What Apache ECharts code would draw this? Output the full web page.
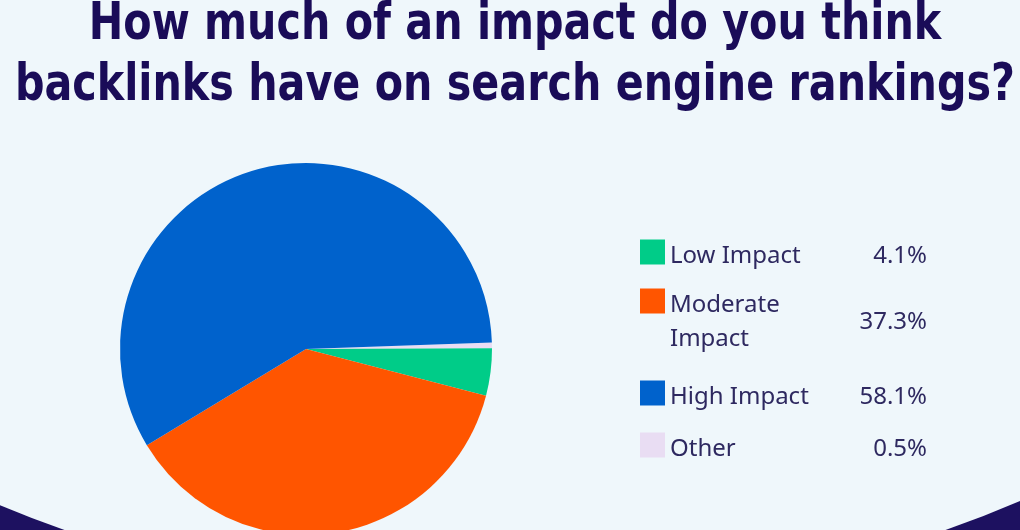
<!DOCTYPE html>
<html>
<head>
<meta charset="utf-8">
<script src="https://cdn.jsdelivr.net/npm/echarts@6/dist/echarts.min.js"></script>
<style>html,body{margin:0;padding:0;background:#1d1160;}#c{width:1020px;height:530px;}</style>
</head>
<body>
<div id="c"></div>
<script>
// Data
var titleLines = ['How much of an impact do you think', 'backlinks have on search engine rankings?'];
var categories = ['Other', 'Low Impact', 'Moderate Impact', 'High Impact'];
var values = [0.5, 4.1, 37.3, 58.1];
var colors = ['#e9ddf3', '#00cc88', '#ff5500', '#0062cc'];
var legendOrder = ['Low Impact', 'Moderate Impact', 'High Impact', 'Other'];
var legendLabels = {'Low Impact': ['Low Impact'], 'Moderate Impact': ['Moderate', 'Impact'], 'High Impact': ['High Impact'], 'Other': ['Other']};

var textColor = '#2e2960';
var legendFont = "'Noto Sans', 'Open Sans', sans-serif";
var legendTops = [236, 250, 377, 429];

function valueOf(name) { return values[categories.indexOf(name)]; }

var legends = legendOrder.map(function (name, i) {
  var lines = legendLabels[name];
  var multi = lines.length > 1;
  var lh = multi ? 34 : 25;
  return {
    data: [{ name: name, icon: 'rect' }],
    orient: 'vertical',
    left: 640,
    top: legendTops[i],
    padding: 0,
    itemWidth: 25,
    itemHeight: 25,
    itemGap: 0,
    selectedMode: false,
    formatter: function (n) {
      var v = valueOf(n).toFixed(1) + '%';
      var ls = legendLabels[n];
      if (ls.length > 1) {
        return '{n|' + ls[0] + '}{vm|' + v + '}\n{n|' + ls[1] + '}';
      }
      return '{n|' + ls[0] + '}{v|' + v + '}';
    },
    textStyle: {
      backgroundColor: 'transparent',
      padding: multi ? [34, 0, 0, 0] : 0,
      rich: {
        n: { fontFamily: legendFont, fontSize: 24, color: textColor, lineHeight: lh, width: 175, padding: [8, 0, 0, 0] },
        v: { fontFamily: legendFont, fontSize: 24, color: textColor, lineHeight: lh, width: 82, align: 'right', padding: [8, 0, 0, 0] },
        vm: { fontFamily: legendFont, fontSize: 24, color: textColor, lineHeight: lh, width: 82, align: 'right', padding: [42, 0, 0, 0] }
      }
    }
  };
});

var chart = echarts.init(document.getElementById('c'), null, { renderer: 'canvas' });
chart.setOption({
  animation: false,
  backgroundColor: '#1d1160',
  color: colors,
  graphic: [{
    type: 'circle',
    x: 505,
    y: 0,
    scaleX: 1.543,
    scaleY: 1,
    shape: { cx: 0, cy: 0, r: 602 },
    style: { fill: '#eff7fb' },
    z: -10,
    silent: true
  }, {
    type: 'text',
    x: 515,
    y: -5,
    scaleX: 0.882,
    scaleY: 1,
    silent: true,
    z: 10,
    style: {
      text: titleLines.join('\n'),
      fontFamily: "'DejaVu Sans Condensed', 'DejaVu Sans', sans-serif",
      fontWeight: 'bold',
      fontSize: 52,
      lineHeight: 61,
      fill: '#1a0c58',
      align: 'center',
      verticalAlign: 'top'
    }
  }],
  legend: legends,
  series: [{
    type: 'pie',
    center: [306, 349],
    radius: 186,
    startAngle: 2,
    clockwise: true,
    label: { show: false },
    labelLine: { show: false },
    emphasis: { disabled: true },
    itemStyle: { borderWidth: 0 },
    data: categories.map(function (c, i) { return { name: c, value: values[i], itemStyle: { color: colors[i] } }; })
  }]
});
</script>
</body>
</html>
